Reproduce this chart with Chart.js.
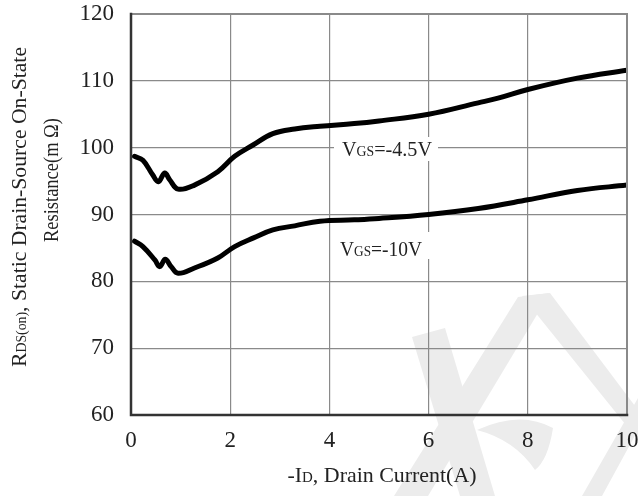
<!DOCTYPE html>
<html>
<head>
<meta charset="utf-8">
<script src="https://cdn.jsdelivr.net/npm/chart.js@4.4.1/dist/chart.umd.min.js"></script>
<style>
  html, body { margin: 0; padding: 0; background: #fff; }
  #c { display: block; }
</style>
</head>
<body>
<canvas id="c" width="638" height="496"></canvas>
<script>
// ── datos ──
const X_TICKS = [0, 2, 4, 6, 8, 10];
const Y_TICKS = [60, 70, 80, 90, 100, 110, 120];

const id45 = [0.07, 0.24, 0.44, 0.55, 0.68, 0.78, 0.95, 1.28, 1.75, 2.09, 2.46, 2.86, 3.3, 3.81, 4.5, 5.0, 6.0, 7.0, 7.4, 8.0, 9.0, 10.0];
const rds45 = [98.7, 98.1, 95.9, 94.9, 96.2, 95.2, 93.8, 94.4, 96.4, 98.7, 100.4, 102.1, 102.8, 103.2, 103.6, 104.0, 105.0, 106.7, 107.4, 108.7, 110.4, 111.6];

const id10 = [0.07, 0.24, 0.48, 0.58, 0.69, 0.81, 0.95, 1.28, 1.75, 2.09, 2.47, 2.86, 3.3, 3.81, 4.5, 5.0, 6.0, 7.0, 8.0, 9.0, 10.0];
const rds10 = [86.0, 85.2, 83.2, 82.2, 83.3, 82.2, 81.2, 82.0, 83.5, 85.2, 86.5, 87.7, 88.3, 89.0, 89.2, 89.4, 90.0, 90.9, 92.2, 93.6, 94.4];

const SERIF = '"Liberation Serif", "DejaVu Serif", serif';

// ── helpers ──
const pts = (xs, ys) => xs.map((x, i) => ({ x, y: ys[i] }));

// texto con tamaños mezclados (subíndices tipo versalitas), ajustado a un ancho
function drawRuns(ctx, runs, cx, cy, width) {
    let total = 0;
    runs.forEach(r => { ctx.font = r.s + 'px ' + SERIF; r.w = ctx.measureText(r.t).width; total += r.w; });
    const k = width ? width / total : 1;
    ctx.save();
    ctx.translate(cx, cy);
    ctx.scale(k, 1);
    ctx.textBaseline = 'alphabetic';
    ctx.textAlign = 'left';
    let x = -total / 2;
    runs.forEach(r => { ctx.font = r.s + 'px ' + SERIF; ctx.fillText(r.t, x, 0); x += r.w; });
    ctx.restore();
}

// marca de agua gris
const watermark = {
    id: 'watermark',
    beforeDraw(chart) {
        const ctx = chart.ctx;
        ctx.save();
        ctx.fillStyle = '#ececec';
        const polys = [
            [[412, 337], [445, 328], [495, 496], [460, 496]],
            [[518, 297], [550, 293], [428, 496], [394, 496]],
            [[522, 296], [550, 293], [638, 410], [638, 440]],
            [[638, 398], [638, 430], [602, 496], [582, 496]],
        ];
        polys.forEach(p => {
            ctx.beginPath();
            ctx.moveTo(p[0][0], p[0][1]);
            p.slice(1).forEach(q => ctx.lineTo(q[0], q[1]));
            ctx.closePath();
            ctx.fill();
        });
        ctx.beginPath();
        ctx.moveTo(477, 430);
        ctx.quadraticCurveTo(520, 410, 553, 428);
        ctx.quadraticCurveTo(548, 460, 535, 470);
        ctx.quadraticCurveTo(515, 440, 477, 430);
        ctx.fill();
        ctx.restore();
    }
};

// marco, rótulos y títulos de ejes
const decor = {
    id: 'decor',
    afterDraw(chart) {
        const ctx = chart.ctx;
        const a = chart.chartArea;
        ctx.save();
        // marco
        ctx.lineCap = 'square';
        ctx.strokeStyle = '#8a8a8a'; ctx.lineWidth = 2;
        ctx.beginPath(); ctx.moveTo(a.left, a.top); ctx.lineTo(a.right, a.top); ctx.lineTo(a.right, a.bottom); ctx.stroke();
        ctx.strokeStyle = '#333'; ctx.lineWidth = 2.5;
        ctx.beginPath(); ctx.moveTo(a.left, a.top); ctx.lineTo(a.left, a.bottom); ctx.lineTo(a.right, a.bottom); ctx.stroke();

        // rótulos de curvas
        ctx.fillStyle = '#fff';
        ctx.fillRect(334, 137, 104, 24);
        ctx.fillRect(333, 232, 98, 27);
        ctx.fillStyle = '#222';
        drawRuns(ctx, [{ t: 'V', s: 22 }, { t: 'GS', s: 15 }, { t: '=-4.5V', s: 22 }], 387, 156, 90);
        drawRuns(ctx, [{ t: 'V', s: 22 }, { t: 'GS', s: 15 }, { t: '=-10V', s: 22 }], 381, 256, 82);

        // título eje x
        drawRuns(ctx, [{ t: '-I', s: 22 }, { t: 'D', s: 15 }, { t: ', Drain Current(A)', s: 22 }], 382, 482, 189);

        // título eje y (dos líneas, girado)
        ctx.save();
        ctx.rotate(-Math.PI / 2);
        drawRuns(ctx, [{ t: 'R', s: 22 }, { t: 'DS(on)', s: 14 }, { t: ', Static Drain-Source On-State', s: 22 }], -207, 26, 320);
        drawRuns(ctx, [{ t: 'Resistance(m Ω)', s: 22 }], -180, 58, 124);
        ctx.restore();
        ctx.restore();
    }
};

// ── gráfico ──
new Chart(document.getElementById('c').getContext('2d'), {
    type: 'line',
    data: {
        datasets: [
            { label: 'VGS=-4.5V', data: pts(id45, rds45) },
            { label: 'VGS=-10V', data: pts(id10, rds10) },
        ].map(d => ({
            ...d,
            borderColor: '#000',
            borderWidth: 5,
            pointRadius: 0,
            fill: false,
            tension: 0.4,
            borderCapStyle: 'round',
            borderJoinStyle: 'round',
        }))
    },
    options: {
        responsive: false,
        animation: false,
        devicePixelRatio: 1,
        layout: { padding: { left: 0, right: 11, top: 14, bottom: 0 } },
        plugins: { legend: { display: false }, tooltip: { enabled: false } },
        scales: {
            x: {
                type: 'linear', min: 0, max: 10,
                afterBuildTicks: s => { s.ticks = X_TICKS.map(v => ({ value: v })); },
                afterFit: s => { s.height = 81; s.paddingLeft = 0; s.paddingRight = 0; },
                border: { display: false },
                grid: { color: '#8a8a8a', lineWidth: 1.2, drawTicks: false },
                ticks: { color: '#222', font: { family: SERIF, size: 23 }, padding: 12, maxRotation: 0 }
            },
            y: {
                min: 60, max: 120,
                afterBuildTicks: s => { s.ticks = Y_TICKS.map(v => ({ value: v })); },
                afterFit: s => { s.width = 131; s.paddingTop = 0; s.paddingBottom = 0; },
                border: { display: false },
                grid: { color: '#8a8a8a', lineWidth: 1.2, drawTicks: false },
                ticks: { color: '#222', font: { family: SERIF, size: 23 }, padding: 17 }
            }
        }
    },
    plugins: [watermark, decor]
});
</script>
</body>
</html>
